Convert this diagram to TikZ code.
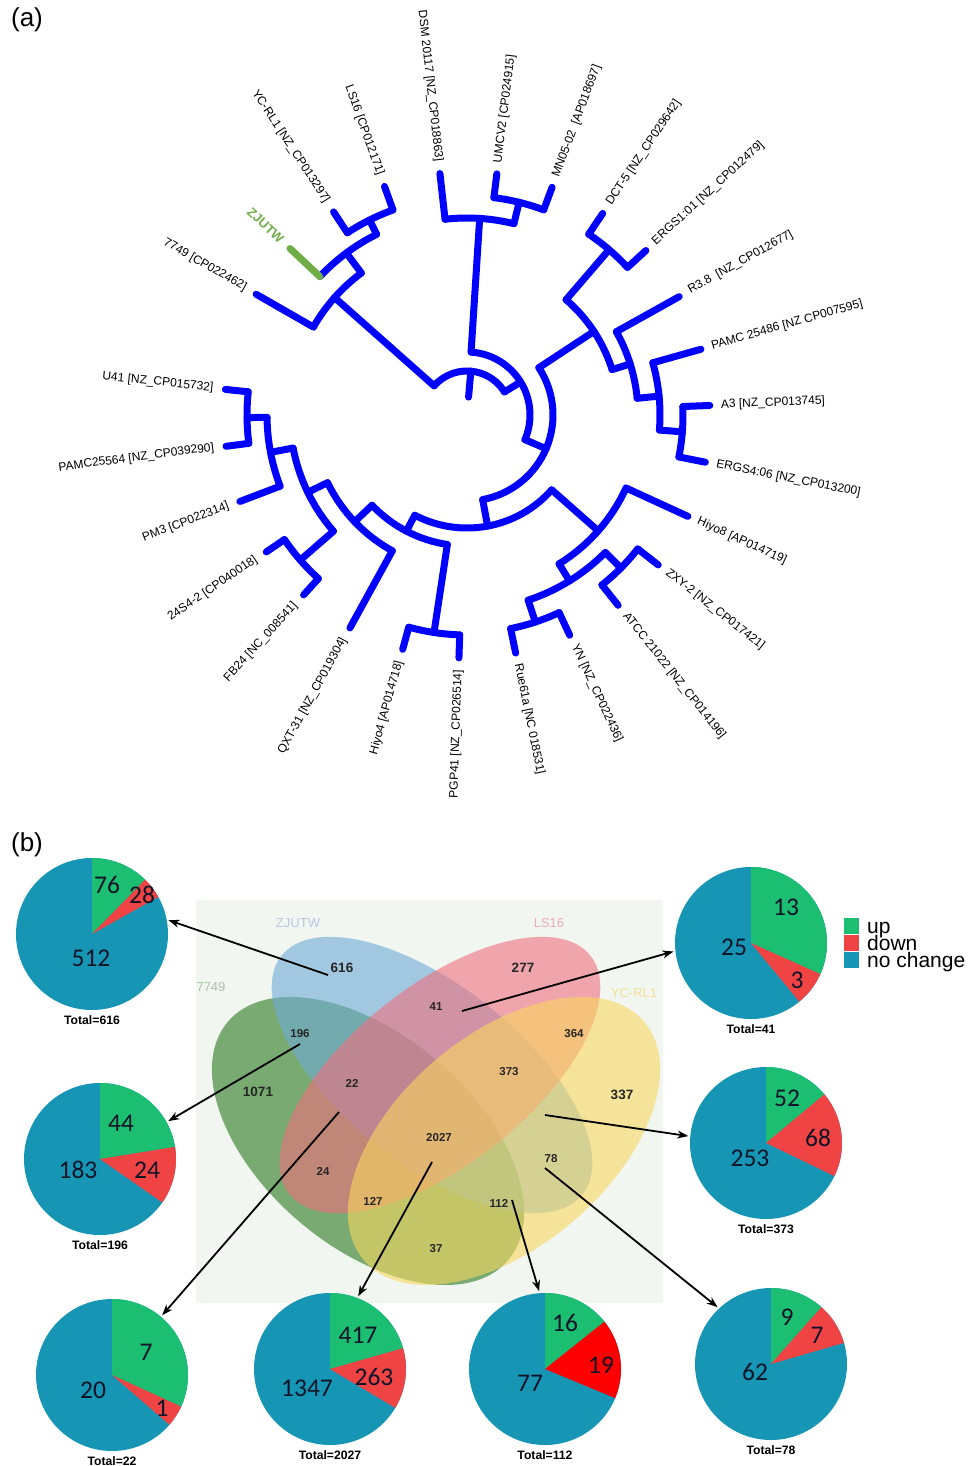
\documentclass[tikz,border=0pt]{standalone}
\usepackage{fontspec}
\setmainfont{Liberation Sans}
\newfontfamily\calib{Carlito}
\usetikzlibrary{calc}
\usetikzlibrary{arrows.meta}

\definecolor{treeblue}{RGB}{0,0,255}
\definecolor{zjgreen}{RGB}{112,173,71}
\definecolor{upc}{RGB}{28,190,114}
\definecolor{downc}{RGB}{240,68,68}
\definecolor{downr}{RGB}{255,0,0}
\definecolor{nochc}{RGB}{22,150,180}
\definecolor{vbg}{RGB}{241,246,240}
\definecolor{vgreen}{RGB}{40,120,30}
\definecolor{vblue}{RGB}{110,170,215}
\definecolor{vpink}{RGB}{240,110,125}
\definecolor{vyellow}{RGB}{248,215,95}
\definecolor{labblue}{RGB}{185,200,225}
\definecolor{labpink}{RGB}{240,170,180}
\definecolor{labgreen}{RGB}{170,195,165}
\definecolor{labyellow}{RGB}{240,225,150}
\definecolor{numc}{RGB}{15,20,40}

\tikzset{
  branch/.style={line width=7pt, draw=treeblue, line cap=round, line join=round},
  leaflab/.style={font=\fontsize{12}{14}\selectfont, inner sep=0pt},
  panel/.style={font=\fontsize{26}{30}\selectfont, inner sep=0pt},
  setlab/.style={font=\fontsize{13}{15}\selectfont, inner sep=0pt},
  vnum/.style={font=\bfseries\fontsize{11.5}{13}\selectfont, text=black!85, inner sep=0pt},
  vbig/.style={font=\bfseries\fontsize{13.5}{15}\selectfont, text=black!85, inner sep=0pt},
  pie/.style={circle, minimum size=152pt, inner sep=0pt, outer sep=0pt},
  pienum/.style={font=\calib\fontsize{25.5}{28}\selectfont, text=numc, inner sep=0pt},
  total/.style={font=\bfseries\fontsize{12.2}{14}\selectfont, inner sep=0pt},
  legbox/.style={minimum width=15pt, minimum height=16pt, inner sep=0pt},
  legtext/.style={font=\fontsize{21}{21}\selectfont, inner sep=0pt},
  arr/.style={-{Stealth[length=11pt,width=8pt]}, line width=1.8pt, shorten >=2pt}
}

\begin{document}
\begin{tikzpicture}[x=1pt, y=-1pt]
\useasboundingbox (0,0) rectangle (967,1466);

% (a) circular tree
\node[panel] (pa) at (27,20) {(a)};
\coordinate (C) at (467,415);

% node arcs
\foreach \r/\a/\b in {218/-123.3/-109.85, 202/-136.75/-116.575, 177/-150.2/-126.66,
    219/-82.95/-69.5, 197/-96.4/-76.225, 218/-56.05/-42.6, 216/-2.25/11.2,
    193/-15.7/4.475, 171/-29.15/-5.61, 152/-49.325/-17.38, 217/38.1/51.55,
    218/65/78.45, 195/44.825/71.725, 175/24.65/58.275, 220/91.9/105.35,
    220/172.6/186.05, 200/159.15/179.325, 221/132.25/145.7, 177/138.975/169.24,
    155/118.8/154.11, 131/98.625/136.455, 113/41.46/117.54, 86/-33.35/79.5,
    63/-86.31/23.075, 44/-138.43/-31.62}
  \draw[branch] ($(C)+(\a:\r)$) arc[start angle=\a, end angle=\b, radius=\r];

% inner branches
\foreach \a/\r/\q in {-116.575/218/202, -126.66/202/177, -138.43/177/44,
    -76.225/219/197, -86.31/197/63, -49.325/218/152, 4.475/216/193,
    -5.61/193/171, -17.38/171/152, -33.35/152/86, 44.825/217/195,
    71.725/218/195, 58.275/195/175, 41.46/175/113, 98.625/220/131,
    179.325/220/200, 169.24/200/177, 138.975/221/177, 154.11/177/155,
    136.455/155/131, 117.54/131/113, 79.5/113/86, 23.075/86/63,
    -31.62/63/44, -85/44/18}
  \draw[branch] ($(C)+(\a:\r)$) -- ($(C)+(\a:\q)$);

% leaves
\foreach \s/\rp in {0/177, 2/218, 3/218, 4/197, 5/219, 6/219, 7/218, 8/218,
    9/171, 10/193, 11/216, 12/216, 13/175, 14/217, 15/217, 16/218, 17/218,
    18/220, 19/220, 20/155, 21/221, 22/221, 23/200, 24/220, 25/220}{
  \pgfmathsetmacro\th{-150.2+13.45*\s}
  \draw[branch] ($(C)+(\th:\rp)$) -- ($(C)+(\th:243)$);
}
\draw[branch, draw=zjgreen] ($(C)+(-136.75:202)$) -- ($(C)+(-136.75:243)$);

% leaf labels, right half
\foreach \s/\lab in {5/{UMCV2 [CP024915]}, 6/{MN05-02 \ [AP018697]},
    7/{DCT-5 [NZ\_CP029642]}, 8/{ERGS1:01 [NZ\_CP012479]},
    9/{R3.8 \ [NZ\_CP012677]}, 10/{PAMC 25486 [NZ CP007595]},
    11/{A3 [NZ\_CP013745]}, 12/{ERGS4:06 [NZ\_CP013200]},
    13/{Hiyo8 [AP014719]}, 14/{ZXY-2 [NZ\_CP017421]},
    15/{ATCC 21022 [NZ\_CP014196]}, 16/{YN [NZ\_CP022436]},
    17/{Rue61a [NC 018531]}}{
  \pgfmathsetmacro\th{-150.2+13.45*\s}
  \pgfmathsetmacro\rot{150.2-13.45*\s}
  \node[leaflab, anchor=west, rotate=\rot] (lab\s) at ($(C)+(\th:254)$) {\lab};
}
% leaf labels, left half
\foreach \s/\lab in {0/{7749 [CP022462]}, 2/{YC-RL1 [NZ\_CP013297]},
    3/{LS16 [CP012171]}, 4/{DSM 20117 [NZ\_CP018863]},
    18/{PGP41 [NZ\_CP026514]}, 19/{Hiyo4 [AP014718]},
    20/{QXT-31 [NZ\_CP019304]}, 21/{FB24 [NC\_008541]},
    22/{24S4-2 [CP040018]}, 23/{PM3 [CP022314]},
    24/{PAMC25564 [NZ\_CP039290]}, 25/{U41 [NZ\_CP015732]}}{
  \pgfmathsetmacro\th{-150.2+13.45*\s}
  \pgfmathsetmacro\rot{330.2-13.45*\s}
  \node[leaflab, anchor=east, rotate=\rot] (lab\s) at ($(C)+(\th:255)$) {\lab};
}
\node[leaflab, font=\bfseries\fontsize{13}{15}\selectfont, text=zjgreen,
  anchor=east, rotate=316.75] (lab1) at ($(C)+(-136.75:254)$) {ZJUTW};

% (b) venn diagram
\node[panel] (pb) at (27,845) {(b)};
\fill[vbg] (196,900) rectangle (663,1303);

\coordinate (c7749) at (368,1141);
\coordinate (cZJ) at (432,1075);
\coordinate (cLS) at (440,1075);
\coordinate (cYC) at (504,1141);
\fill[vgreen, fill opacity=0.6, rotate around={-40.4:(c7749)}] (c7749) ellipse[x radius=184, y radius=106];
\fill[vblue, fill opacity=0.6, rotate around={-38.4:(cZJ)}] (cZJ) ellipse[x radius=192, y radius=89];
\fill[vpink, fill opacity=0.6, rotate around={38.4:(cLS)}] (cLS) ellipse[x radius=192, y radius=89];
\fill[vyellow, fill opacity=0.6, rotate around={40.4:(cYC)}] (cYC) ellipse[x radius=184, y radius=106];

\node[setlab, text=labblue] (sZJ) at (298,923) {ZJUTW};
\node[setlab, text=labpink] (sLS) at (549,923) {LS16};
\node[setlab, text=labgreen] (s7749) at (211,987) {7749};
\node[setlab, text=labyellow] (sYC) at (634,993) {YC-RL1};

\node[vbig] (n616) at (342,968) {616};
\node[vbig] (n277) at (523,968) {277};
\node[vbig] (n1071) at (258,1092) {1071};
\node[vbig] (n337) at (622,1095) {337};
\node[vnum] (n41) at (436,1007) {41};
\node[vnum] (n196) at (300,1034) {196};
\node[vnum] (n364) at (574,1034) {364};
\node[vnum] (n22) at (352,1083) {22};
\node[vnum] (n373) at (509,1072) {373};
\node[vnum] (n2027) at (439,1138) {2027};
\node[vnum] (n78) at (551,1159) {78};
\node[vnum] (n24) at (323,1171) {24};
\node[vnum] (n127) at (373,1201) {127};
\node[vnum] (n112) at (499,1203) {112};
\node[vnum] (n37) at (436,1249) {37};

% pies
\foreach \nm/\x/\y/\nup/\ndn/\ntot/\dcol in {616/92/934/76/28/616/downc,
    196/100/1159/44/24/196/downc, 41/751/943/13/3/41/downc,
    373/766/1143/52/68/373/downc, 22/112/1375/7/1/22/downc,
    2027/330/1369/417/263/2027/downc, 112/545/1369/16/19/112/downr,
    78/771/1364/9/7/78/downc}{
  \pgfmathsetmacro\ga{360/\ntot*\nup-90}
  \pgfmathsetmacro\gb{360/\ntot*(\nup+\ndn)-90}
  \node[pie] (p\nm) at (\x,\y) {};
  \fill[nochc] (p\nm.center) circle[radius=76];
  \fill[upc] (p\nm.center) -- ++(-90:76) arc[start angle=-90, end angle=\ga, radius=76] -- cycle;
  \fill[\dcol] (p\nm.center) -- ++(\ga:76) arc[start angle=\ga, end angle=\gb, radius=76] -- cycle;
  \node[total] (tot\nm) at (\x,\y+86) {Total=\ntot};
}

\node[pienum] (u616) at (107,885) {76};
\node[pienum] (d616) at (142,895) {28};
\node[pienum] (o616) at (91,958) {512};
\node[pienum] (u196) at (121,1123) {44};
\node[pienum] (d196) at (147,1170) {24};
\node[pienum] (o196) at (78,1170) {183};
\node[pienum] (u41) at (786,907) {13};
\node[pienum] (d41) at (797,980) {3};
\node[pienum] (o41) at (734,947) {25};
\node[pienum] (u373) at (787,1098) {52};
\node[pienum] (d373) at (818,1138) {68};
\node[pienum] (o373) at (750,1158) {253};
\node[pienum] (u22) at (146,1352) {7};
\node[pienum] (d22) at (162,1408) {1};
\node[pienum] (o22) at (93,1390) {20};
\node[pienum] (u2027) at (358,1335) {417};
\node[pienum] (d2027) at (374,1377) {263};
\node[pienum] (o2027) at (307,1388) {1347};
\node[pienum] (u112) at (565,1323) {16};
\node[pienum] (d112) at (601,1365) {19};
\node[pienum] (o112) at (530,1383) {77};
\node[pienum] (u78) at (787,1317) {9};
\node[pienum] (d78) at (817,1335) {7};
\node[pienum] (o78) at (755,1372) {62};

% legend
\node[legbox, fill=upc] (kup) at (851.5,926) {};
\node[legbox, fill=downc] (kdn) at (851.5,943) {};
\node[legbox, fill=nochc] (kno) at (851.5,960) {};
\node[legtext, anchor=base west] (tup) at (867,933) {up};
\node[legtext, anchor=base west] (tdn) at (867,950) {down};
\node[legtext, anchor=base west] (tno) at (867,967) {no change};

% arrows from venn regions to pies
\coordinate (a616) at (328,975);
\coordinate (a196) at (300,1044);
\coordinate (a41) at (462,1011);
\coordinate (a373) at (545,1115);
\coordinate (a22) at (339,1112);
\coordinate (a2027) at (432,1162);
\coordinate (a112) at (512,1200);
\coordinate (a78) at (545,1168);
\draw[arr] (a616) -- (p616.11.6);
\draw[arr] (a196) -- (p196.29.2);
\draw[arr] (a41) -- (p41.186.3);
\draw[arr] (a373) -- (p373.175.7);
\draw[arr] (a22) -- (p22.50.5);
\draw[arr] (a2027) -- (p2027.69.2);
\draw[arr] (a112) -- (p112.94.9);
\draw[arr] (a78) -- (p78.133);
\end{tikzpicture}
\end{document}
